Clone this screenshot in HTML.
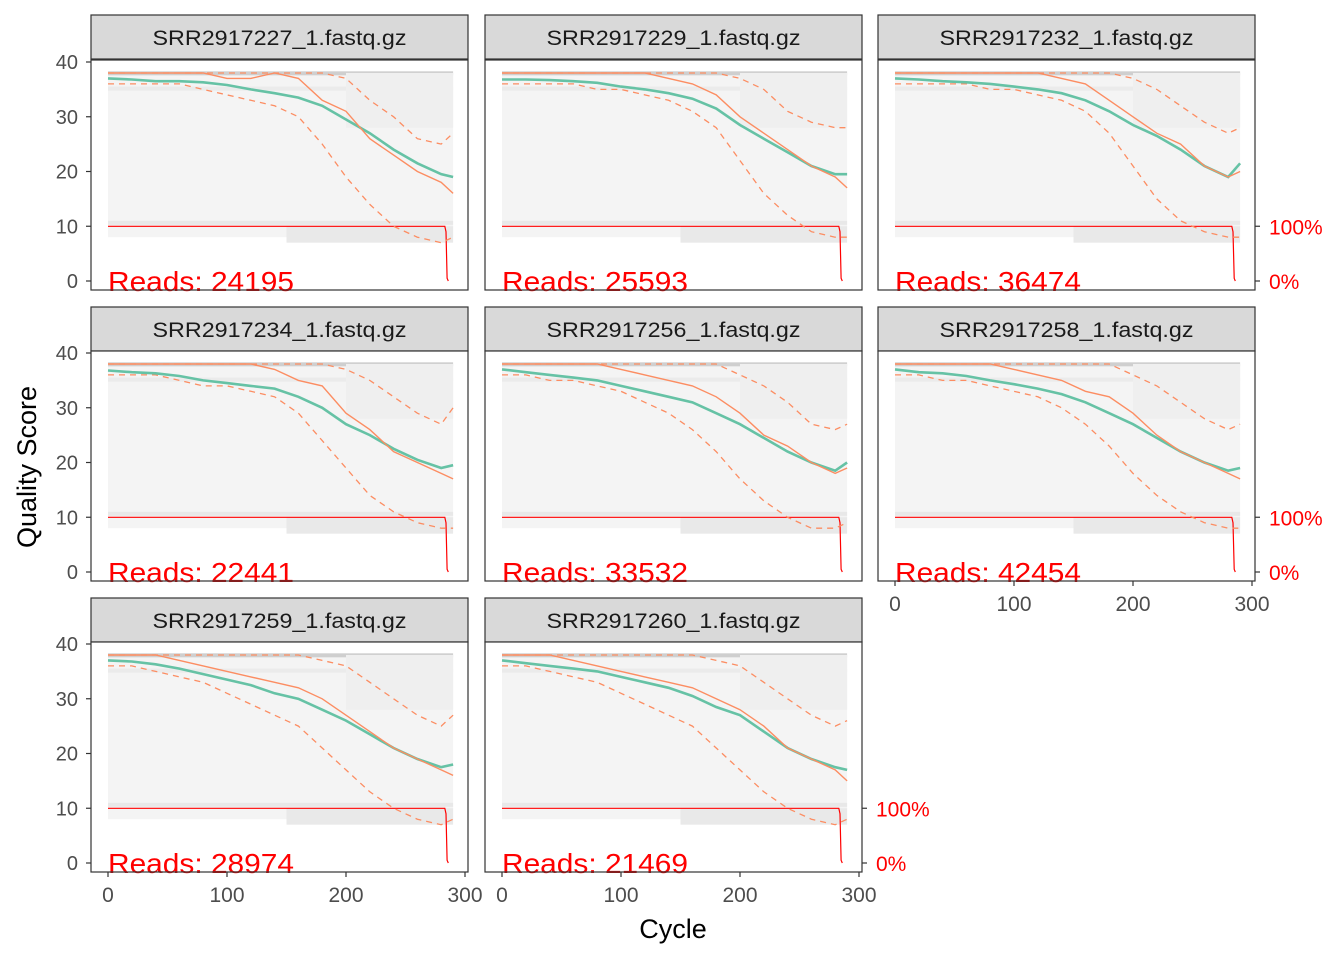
<!DOCTYPE html>
<html><head><meta charset="utf-8"><style>
body{margin:0;background:#fff}
svg{display:block;font-family:"Liberation Sans",sans-serif}
</style></head><body>
<svg id="c" width="1344" height="960" xmlns="http://www.w3.org/2000/svg"></svg>
<script>
const NS='http://www.w3.org/2000/svg';
const cycles=[0,20,40,60,80,100,120,140,160,180,200,220,240,260,280,290];
const files=['SRR2917227_1.fastq.gz','SRR2917229_1.fastq.gz','SRR2917232_1.fastq.gz','SRR2917234_1.fastq.gz','SRR2917256_1.fastq.gz','SRR2917258_1.fastq.gz','SRR2917259_1.fastq.gz','SRR2917260_1.fastq.gz'];
const reads=[24195,25593,36474,22441,33532,42454,28974,21469];
const meanQ=[
[37,36.8,36.5,36.5,36.3,35.8,35,34.3,33.5,32,29.5,27,24,21.5,19.5,19],
[36.8,36.8,36.7,36.5,36.2,35.5,35,34.3,33.3,31.5,28.5,26,23.5,21,19.5,19.5],
[37,36.8,36.5,36.3,36,35.5,35,34.3,33,31,28.5,26.5,24,21,19,21.5],
[36.8,36.5,36.3,35.8,35,34.5,34,33.5,32,30,27,25,22.5,20.5,19,19.5],
[37,36.5,36,35.5,35,34,33,32,31,29,27,24.5,22,20,18.5,20],
[37,36.5,36.3,35.8,35,34.3,33.5,32.5,31,29,27,24.5,22,20,18.5,19],
[37,36.8,36.3,35.5,34.5,33.5,32.5,31,30,28,26,23.5,21,19,17.5,18],
[37,36.5,36,35.5,35,34,33,32,30.5,28.5,27,24,21,19,17.5,17]];
const medQ=[
[38,38,38,38,38,37,37,38,37,33,31,26,23,20,18,16],
[38,38,38,38,38,38,38,37,36,34,30,27,24,21,19,17],
[38,38,38,38,38,38,38,37,36,33,30,27,25,21,19,20],
[38,38,38,38,38,38,38,37,35,34,29,26,22,20,18,17],
[38,38,38,38,38,37,36,35,34,32,29,25,23,20,18,19],
[38,38,38,38,38,37,36,35,33,32,29,25,22,20,18,17],
[38,38,38,37,36,35,34,33,32,30,27,24,21,19,17,16],
[38,38,38,37,36,35,34,33,32,30,28,25,21,19,17,15]];
const q25=[
[36,36,36,36,35,34,33,32,30,25,19,14,10,8,7,8],
[36,36,36,36,35,35,34,33,31,28,22,16,12,9,8,8],
[36,36,36,36,35,35,34,33,31,27,21,15,11,9,8,8],
[36,36,36,35,34,34,33,32,29,24,19,14,11,9,8,8],
[36,36,35,35,34,33,31,29,26,22,17,13,10,8,8,9],
[36,36,35,35,34,33,32,30,27,23,18,14,11,9,8,8],
[36,36,35,34,33,31,29,27,25,21,17,13,10,8,7,8],
[36,36,35,34,33,31,29,27,25,21,17,13,10,8,7,8]];
const q75=[
[38,38,38,38,38,38,38,38,38,38,37,33,30,26,25,27],
[38,38,38,38,38,38,38,38,38,38,37,35,31,29,28,28],
[38,38,38,38,38,38,38,38,38,38,37,35,32,29,27,28],
[38,38,38,38,38,38,38,38,38,38,37,35,32,29,27,30],
[38,38,38,38,38,38,38,38,38,38,36,34,31,27,26,27],
[38,38,38,38,38,38,38,38,38,38,36,34,31,28,26,27],
[38,38,38,38,38,38,38,38,38,37,36,33,30,27,25,27],
[38,38,38,38,38,38,38,38,38,37,36,33,30,27,25,26]];
const cumCycles=[0,283,284,285,286];
const cumFrac=[1,1,0.9,0.05,0];
const yTicks=[0,10,20,30,40];
const xTicks=[0,100,200,300];

const svg=document.getElementById('c');
function el(t,a,p){const e=document.createElementNS(NS,t);for(const k in a)e.setAttribute(k,a[k]);(p||svg).appendChild(e);return e;}
const colL=[91,485,878],W=377,stripT=[15,307,598],plotT=[60,351,642],PH=230,Y0=[281,572,863];
function xs(c,col){return colL[col]+17+c*1.19;}
function ys(v,row){return Y0[row]-v*5.475;}
function pts(xa,ya,col,row){return xa.map((c,i)=>xs(c,col).toFixed(1)+','+ys(ya[i],row).toFixed(1)).join(' ');}

for(let p=0;p<8;p++){
  const row=Math.floor(p/3),col=p%3;
  const g=el('g',{});
  
  
  const st=el('rect',{x:colL[col],y:stripT[row],width:W,height:44,fill:'#d9d9d9',stroke:'#333','stroke-width':1.2},g);
  
  
  const stt=el('text',{x:colL[col]+W/2,y:stripT[row]+30,'text-anchor':'middle','font-size':21,fill:'#1a1a1a',textLength:254,lengthAdjust:'spacingAndGlyphs'},g);
  stt.textContent=files[p];
  
  
  el('rect',{x:colL[col],y:plotT[row],width:W,height:PH,fill:'#fff'},g);
  const x0=xs(0,col),x1=xs(290,col);
  el('rect',{x:x0,y:ys(38,row),width:x1-x0,height:ys(8,row)-ys(38,row),fill:'#f4f4f4'},g);
  el('rect',{x:x0,y:ys(38.3,row),width:x1-x0,height:4,fill:'#cfcfcf'},g);
  el('rect',{x:x0,y:ys(35.5,row),width:x1-x0,height:4,fill:'#ebebeb'},g);
  el('rect',{x:x0,y:ys(11,row),width:x1-x0,height:4,fill:'#e8e8e8'},g);
  el('rect',{x:xs(150,col),y:ys(10,row),width:x1-xs(150,col),height:ys(7,row)-ys(10,row),fill:'#e9e9e9'},g);
  el('rect',{x:xs(200,col),y:ys(38,row),width:x1-xs(200,col),height:ys(28,row)-ys(38,row),fill:'#efefef'},g);
  const cum=el('polyline',{points:pts(cumCycles,cumFrac.map(f=>f*10),col,row),fill:'none',stroke:'#ff0000','stroke-width':1.2},g);
  
  
  const l75=el('polyline',{points:pts(cycles,q75[p],col,row),fill:'none',stroke:'#FC8D62','stroke-width':1.3,'stroke-dasharray':'6,5'},g);
  
  
  const l25=el('polyline',{points:pts(cycles,q25[p],col,row),fill:'none',stroke:'#FC8D62','stroke-width':1.3,'stroke-dasharray':'6,5'},g);
  
  
  const lm=el('polyline',{points:pts(cycles,meanQ[p],col,row),fill:'none',stroke:'#66C2A5','stroke-width':2.6},g);
  
  
  const lmd=el('polyline',{points:pts(cycles,medQ[p],col,row),fill:'none',stroke:'#FC8D62','stroke-width':1.4},g);
  
  
  const rt=el('text',{x:xs(0,col),y:Y0[row]+10,'font-size':28,fill:'#ff0000',textLength:186,lengthAdjust:'spacingAndGlyphs'},g);
  rt.textContent='Reads:  '+reads[p];
  
  
  el('rect',{x:colL[col],y:plotT[row],width:W,height:PH,fill:'none',stroke:'#333','stroke-width':1.2},g);
  if(col===0){
    yTicks.forEach(t=>{const y=ys(t,row);el('line',{x1:colL[col]-5,x2:colL[col],y1:y,y2:y,stroke:'#333','stroke-width':1.2},g);
      const tx=el('text',{x:colL[col]-13,y:y+7,'text-anchor':'end','font-size':20,fill:'#4d4d4d'},g);tx.textContent=t;
      
      });
  }
  if(col===2||p===7){
    const xr=colL[col]+W;
    [[10,'100%'],[0,'0%']].forEach(([v,s])=>{const y=ys(v,row);el('line',{x1:xr,x2:xr+5,y1:y,y2:y,stroke:'#333','stroke-width':1.2},g);
      const tx=el('text',{x:xr+14,y:y+8,'font-size':21,fill:'#ff0000'},g);tx.textContent=s;
      
      });
  }
  if(p>=5){
    const yb=plotT[row]+PH;
    xTicks.forEach(t=>{const x=xs(t,col);el('line',{x1:x,x2:x,y1:yb,y2:yb+5,stroke:'#333','stroke-width':1.2},g);
      const tx=el('text',{x:x,y:yb+30,'text-anchor':'middle','font-size':21,fill:'#4d4d4d'},g);tx.textContent=t;
      
      });
  }
}
const yt=el('text',{x:0,y:0,transform:'translate(36,467) rotate(-90)','text-anchor':'middle','font-size':27,fill:'#000'});
yt.textContent='Quality Score';


const xt=el('text',{x:673,y:938,'text-anchor':'middle','font-size':27,fill:'#000'});
xt.textContent='Cycle';


</script>
</body></html>
